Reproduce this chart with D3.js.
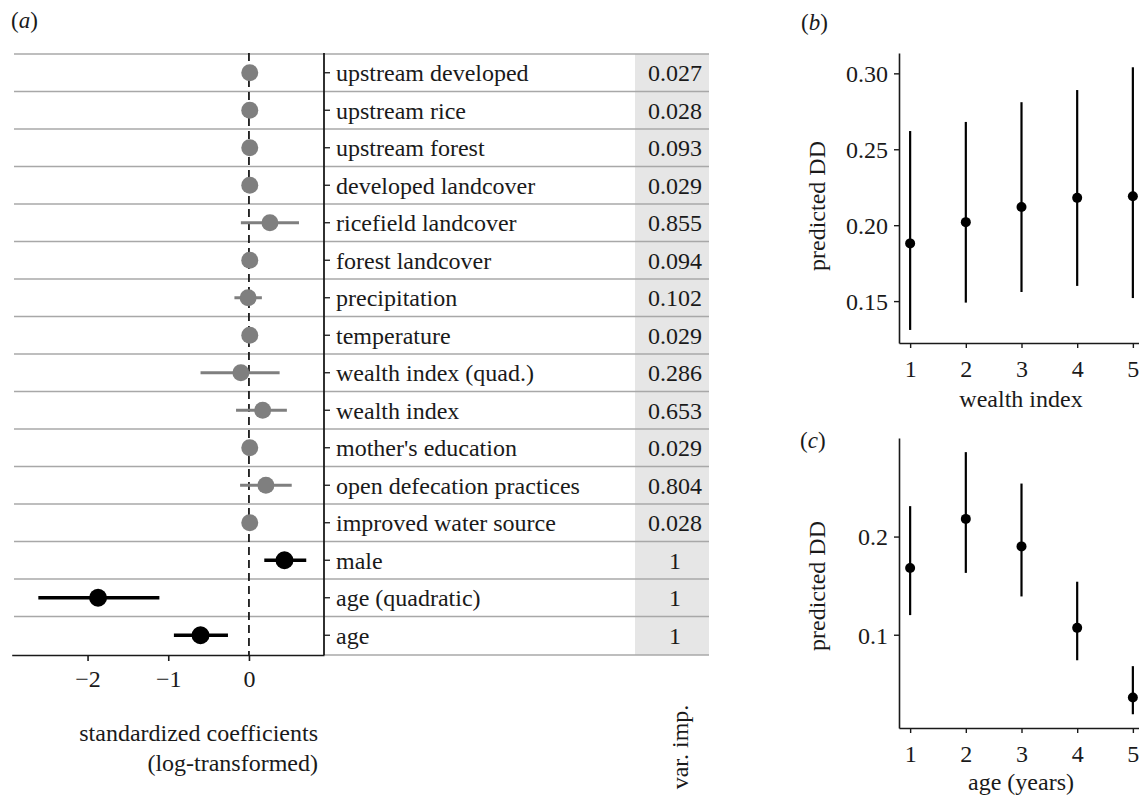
<!DOCTYPE html>
<html>
<head>
<meta charset="utf-8">
<script src="https://cdn.jsdelivr.net/npm/d3@7"></script>
<style>
  body { margin: 0; background: #fff; }
</style>
</head>
<body>
<svg id="fig" width="1139" height="796"></svg>
<script>
// panel (a): standardized coefficients, top row first
var variables = ['upstream developed', 'upstream rice', 'upstream forest', 'developed landcover',
  'ricefield landcover', 'forest landcover', 'precipitation', 'temperature',
  'wealth index (quad.)', 'wealth index', "mother's education", 'open defecation practices',
  'improved water source', 'male', 'age (quadratic)', 'age'];
var coefEst  = [0.01, 0.01, 0.01, 0.01, 0.26, 0.01, -0.01, 0.01, -0.10, 0.17, 0.01, 0.21, 0.01, 0.44, -1.87, -0.60];
var coefLow  = [-0.01, -0.01, -0.01, -0.01, -0.10, -0.01, -0.18, -0.01, -0.60, -0.16, -0.01, -0.11, -0.01, 0.19, -2.61, -0.93];
var coefHigh = [0.03, 0.03, 0.03, 0.03, 0.62, 0.03, 0.16, 0.03, 0.38, 0.47, 0.03, 0.53, 0.03, 0.71, -1.11, -0.26];
var varImp   = [0.027, 0.028, 0.093, 0.029, 0.855, 0.094, 0.102, 0.029, 0.286, 0.653, 0.029, 0.804, 0.028, 1, 1, 1];
var coefTicks = [-2, -1, 0];

// panel (b): predicted DD by wealth index
var wealthIdx = [1, 2, 3, 4, 5];
var wealthEst = [0.188, 0.202, 0.212, 0.218, 0.219];
var wealthLow = [0.131, 0.149, 0.156, 0.160, 0.152];
var wealthHigh = [0.262, 0.268, 0.281, 0.289, 0.304];
var wealthTicks = [0.15, 0.20, 0.25, 0.30];

// panel (c): predicted DD by age
var ageYears = [1, 2, 3, 4, 5];
var ageEst  = [0.168, 0.218, 0.190, 0.107, 0.036];
var ageLow  = [0.120, 0.163, 0.139, 0.074, 0.019];
var ageHigh = [0.231, 0.286, 0.254, 0.154, 0.068];
var ageTicks = [0.1, 0.2];

var serif = '"Liberation Serif", "Times New Roman", Times, "DejaVu Serif", serif';
var fs = '24px';
var svg = d3.select('#fig');
var ink = '#1a1a1a';
var grey = '#7f7f7f';

// ---------- panel (a) ----------
var rows = variables.map(function (v, i) {
  return { name: v, est: coefEst[i], lo: coefLow[i], hi: coefHigh[i], imp: varImp[i] };
});
var x = d3.scaleLinear().domain([-2.94, 0.93]).range([11.7, 324]);
var y = d3.scaleBand().domain(variables).range([54, 654]);
var bottom = 655;

svg.append('text').attr('x', 11).attr('y', 28).style('font-size', '23px')
  .html('(<tspan font-style="italic">a</tspan>)');

// var. imp. column background
svg.append('rect').attr('x', 635).attr('y', 54).attr('width', 74).attr('height', bottom - 54)
  .attr('fill', '#e6e6e6');

// row separators
svg.append('g').selectAll('line').data(rows).join('line')
  .attr('x1', 14).attr('x2', 709)
  .attr('y1', function (d) { return y(d.name); })
  .attr('y2', function (d) { return y(d.name); })
  .attr('stroke', '#a8a8a8').attr('stroke-width', 1.6);
svg.append('line').attr('x1', 324).attr('x2', 709).attr('y1', bottom).attr('y2', bottom)
  .attr('stroke', '#a8a8a8').attr('stroke-width', 1.6);

// zero reference
svg.append('line').attr('x1', x(0)).attr('x2', x(0)).attr('y1', 53).attr('y2', bottom)
  .attr('stroke', ink).attr('stroke-width', 1.8).attr('stroke-dasharray', '8,5');

// error bars + points
var pts = svg.append('g');
pts.selectAll('line').data(rows).join('line')
  .attr('x1', function (d) { return x(d.lo); })
  .attr('x2', function (d) { return x(d.hi); })
  .attr('y1', function (d) { return y(d.name) + y.bandwidth() / 2; })
  .attr('y2', function (d) { return y(d.name) + y.bandwidth() / 2; })
  .attr('stroke', function (d) { return d.imp === 1 ? '#000' : grey; })
  .attr('stroke-width', function (d) { return d.imp === 1 ? 3.5 : 3; });
pts.selectAll('circle').data(rows).join('circle')
  .attr('cx', function (d) { return x(d.est); })
  .attr('cy', function (d) { return y(d.name) + y.bandwidth() / 2; })
  .attr('r', function (d) { return d.imp === 1 ? 9 : 8.5; })
  .attr('fill', function (d) { return d.imp === 1 ? '#000' : grey; });

// x axis
var xAxis = svg.append('g').attr('transform', 'translate(0,' + bottom + ')')
  .call(d3.axisBottom(x).tickValues(coefTicks).tickFormat(d3.format('d')).tickSize(6).tickSizeOuter(0));
xAxis.select('.domain').attr('stroke', ink).attr('stroke-width', 1.6);
xAxis.selectAll('.tick line').attr('stroke', ink).attr('stroke-width', 1.6);
xAxis.selectAll('.tick text').attr('y', 0).attr('dy', '1.35em').style('font-size', fs);

// y axis with labels
var yAxis = svg.append('g').attr('transform', 'translate(324,0)')
  .call(d3.axisRight(y).tickSize(6).tickSizeOuter(0).tickPadding(6));
yAxis.select('.domain').attr('d', 'M0,53V' + bottom).attr('stroke', ink).attr('stroke-width', 1.8);
yAxis.selectAll('.tick line').attr('stroke', ink).attr('stroke-width', 1.3);
yAxis.selectAll('.tick text').attr('dy', '0.35em').style('font-size', fs);

// variable importance values
svg.append('g').selectAll('text').data(rows).join('text')
  .attr('x', 675)
  .attr('y', function (d) { return y(d.name) + y.bandwidth() / 2 + 8.5; })
  .attr('text-anchor', 'middle').style('font-size', fs)
  .text(function (d) { return d.imp === 1 ? '1' : d3.format('.3f')(d.imp); });

svg.append('text').attr('x', 318).attr('y', 741).attr('text-anchor', 'end')
  .style('font-size', fs).text('standardized coefficients');
svg.append('text').attr('x', 318).attr('y', 771).attr('text-anchor', 'end')
  .style('font-size', fs).text('(log-transformed)');
svg.append('text').attr('transform', 'translate(688,747) rotate(-90)').attr('text-anchor', 'middle')
  .style('font-size', fs).text('var. imp.');

// ---------- panels (b) and (c) ----------
function dotPanel(opt) {
  var px = d3.scaleLinear().domain([0.8, 5.2]).range([899, 1144]);
  var py = d3.scaleLinear().domain(opt.yDomain).range([opt.y1, opt.y0]);
  var g = svg.append('g');

  g.append('text').attr('x', opt.tagX).attr('y', opt.tagY).style('font-size', '23px')
    .html('(<tspan font-style="italic">' + opt.tag + '</tspan>)');

  var ax = g.append('g').attr('transform', 'translate(0,' + opt.y1 + ')')
    .call(d3.axisBottom(px).tickValues(opt.xs).tickFormat(d3.format('d')).tickSize(5).tickSizeOuter(0));
  ax.select('.domain').attr('stroke', ink).attr('stroke-width', 1.6);
  ax.selectAll('.tick line').attr('stroke', ink).attr('stroke-width', 1.4);
  ax.selectAll('.tick text').attr('y', 0).attr('dy', '1.4em').style('font-size', fs);

  var ay = g.append('g').attr('transform', 'translate(899,0)')
    .call(d3.axisLeft(py).tickValues(opt.yTicks).tickFormat(d3.format(opt.fmt)).tickSize(5).tickSizeOuter(0).tickPadding(6));
  ay.select('.domain').attr('stroke', ink).attr('stroke-width', 1.6);
  ay.selectAll('.tick line').attr('stroke', ink).attr('stroke-width', 1.4);
  ay.selectAll('.tick text').attr('dy', '0.35em').style('font-size', fs);

  var data = opt.xs.map(function (v, i) { return { x: v, est: opt.est[i], lo: opt.lo[i], hi: opt.hi[i] }; });
  g.append('g').selectAll('line').data(data).join('line')
    .attr('x1', function (d) { return px(d.x); }).attr('x2', function (d) { return px(d.x); })
    .attr('y1', function (d) { return py(d.lo); }).attr('y2', function (d) { return py(d.hi); })
    .attr('stroke', '#000').attr('stroke-width', 2.2);
  g.append('g').selectAll('circle').data(data).join('circle')
    .attr('cx', function (d) { return px(d.x); }).attr('cy', function (d) { return py(d.est); })
    .attr('r', 5).attr('fill', '#000');

  g.append('text').attr('transform', 'translate(825,' + opt.yLabY + ') rotate(-90)')
    .attr('text-anchor', 'middle').style('font-size', fs).text('predicted DD');
  g.append('text').attr('x', 1021).attr('y', opt.xLabY).attr('text-anchor', 'middle')
    .style('font-size', fs).text(opt.xLabel);
}

dotPanel({ tag: 'b', tagX: 801, tagY: 30, y0: 53, y1: 343, yDomain: [0.1224, 0.3134],
  yTicks: wealthTicks, fmt: '.2f', xs: wealthIdx, est: wealthEst, lo: wealthLow, hi: wealthHigh,
  yLabY: 206, xLabY: 407, xLabel: 'wealth index' });
dotPanel({ tag: 'c', tagX: 800, tagY: 448, y0: 438, y1: 728, yDomain: [0.005, 0.3004],
  yTicks: ageTicks, fmt: '.1f', xs: ageYears, est: ageEst, lo: ageLow, hi: ageHigh,
  yLabY: 586, xLabY: 790, xLabel: 'age (years)' });

// serif everywhere (axis groups set their own font-family otherwise)
svg.selectAll('g').attr('font-family', null);
svg.selectAll('text').style('font-family', serif).attr('fill', ink);
</script>
</body>
</html>
